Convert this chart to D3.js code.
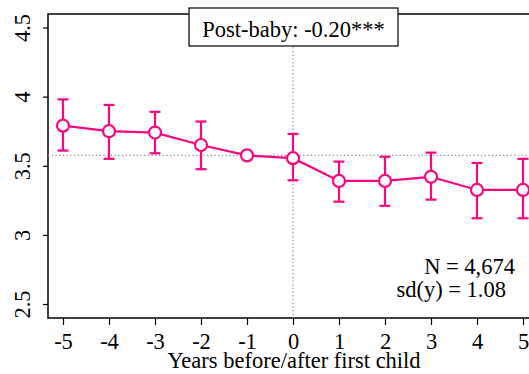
<!DOCTYPE html>
<html><head><meta charset="utf-8">
<script src="https://cdn.jsdelivr.net/npm/d3@7"></script>
<style>body{margin:0;background:#fff}svg{display:block}</style>
</head><body><svg id="c" width="529" height="374" font-family="Liberation Serif"></svg>
<script>
const years = [-5,-4,-3,-2,-1,0,1,2,3,4,5];
const means = [3.79,3.75,3.74,3.65,3.575,3.555,3.39,3.39,3.42,3.325,3.325];
const upper = [3.98,3.94,3.89,3.82,null,3.73,3.53,3.565,3.595,3.52,3.55];
const lower = [3.61,3.55,3.59,3.475,null,3.395,3.24,3.21,3.255,3.12,3.12];
const yTicks = [2.5,3,3.5,4,4.5];
const xTicks = years;
const baseline = 3.575;
const boxLabel = "Post-baby: -0.20***";
const notes = ["N = 4,674","sd(y) = 1.08"];
const xTitle = "Years before/after first child";
const col = "#f7077f";
const FF = "Liberation Serif";
const FS = 22.5;

const svg = d3.select("#c");
const L=48, T=14, B=318, R=540;
const x = d3.scaleLinear().domain([-5,5]).range([63,523]);
const y = d3.scaleLinear().domain([2.5,4.5]).range([304,27.5]);

svg.append("rect").attr("x",L).attr("y",T).attr("width",R-L).attr("height",B-T)
  .attr("fill","none").attr("stroke","#000").attr("stroke-width",1.5);

const ya = svg.append("g").attr("transform",`translate(${L},0)`)
  .call(d3.axisLeft(y).tickValues(yTicks).tickSize(5).tickFormat(d=>d));
ya.attr("font-family",FF).attr("font-size",FS);
ya.select(".domain").remove();
ya.selectAll("line").attr("stroke","#000").attr("stroke-width",1.2);
ya.selectAll(".tick text").attr("transform","rotate(-90)").attr("x",0).attr("y",-18.5)
  .attr("dy","0").attr("text-anchor","middle").attr("fill","#000");

const xa = svg.append("g").attr("transform",`translate(0,${B})`)
  .call(d3.axisBottom(x).tickValues(xTicks).tickSize(7).tickFormat(d=>d));
xa.attr("font-family",FF).attr("font-size",FS);
xa.select(".domain").remove();
xa.selectAll("line").attr("stroke","#000").attr("stroke-width",1.2);
xa.selectAll("text").attr("y",31).attr("dy","0").attr("fill","#000");

svg.append("text").attr("x",294).attr("y",368).attr("text-anchor","middle")
  .attr("font-family",FF).attr("font-size",FS).text(xTitle);

svg.append("line").attr("x1",L).attr("x2",R).attr("y1",y(baseline)).attr("y2",y(baseline))
  .attr("stroke","#888").attr("stroke-width",1.2).attr("stroke-dasharray","1.2,2.5");
svg.append("line").attr("x1",x(0)).attr("x2",x(0)).attr("y1",T).attr("y2",B)
  .attr("stroke","#888").attr("stroke-width",1.2).attr("stroke-dasharray","1.2,2.5");

const idx = d3.range(years.length).filter(i=>upper[i]!=null);
const eb = svg.append("g").attr("stroke",col).attr("stroke-width",2.2);
idx.forEach(i=>{
  const cx = x(years[i]);
  eb.append("line").attr("x1",cx).attr("x2",cx).attr("y1",y(upper[i])).attr("y2",y(lower[i]));
  eb.append("line").attr("x1",cx-5.5).attr("x2",cx+5.5).attr("y1",y(upper[i])).attr("y2",y(upper[i]));
  eb.append("line").attr("x1",cx-5.5).attr("x2",cx+5.5).attr("y1",y(lower[i])).attr("y2",y(lower[i]));
});

svg.append("path").datum(years.map((d,i)=>[d,means[i]]))
  .attr("d",d3.line().x(d=>x(d[0])).y(d=>y(d[1])))
  .attr("fill","none").attr("stroke",col).attr("stroke-width",2.2);

svg.append("g").selectAll("circle").data(years.map((d,i)=>[d,means[i]])).join("circle")
  .attr("cx",d=>x(d[0])).attr("cy",d=>y(d[1])).attr("r",6)
  .attr("fill","#fff").attr("stroke",col).attr("stroke-width",2.2);

const bx=189, bw=209, by=8, bh=38;
svg.append("rect").attr("x",bx).attr("y",by).attr("width",bw).attr("height",bh)
  .attr("fill","#fff").attr("stroke","#000").attr("stroke-width",1.2);
svg.append("text").attr("x",bx+bw/2).attr("y",37).attr("text-anchor","middle")
  .attr("font-family",FF).attr("font-size",FS).text(boxLabel);

svg.append("text").attr("x",515).attr("y",274).attr("text-anchor","end").attr("font-family",FF).attr("font-size",FS).text(notes[0]);
svg.append("text").attr("x",506).attr("y",297).attr("text-anchor","end").attr("font-family",FF).attr("font-size",FS).text(notes[1]);
</script></body></html>
